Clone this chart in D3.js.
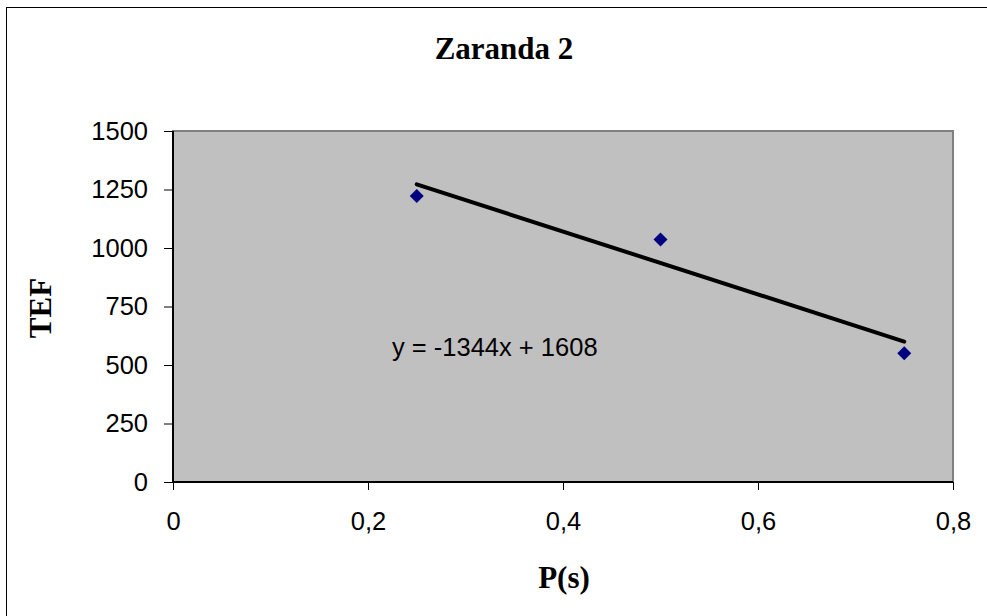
<!DOCTYPE html>
<meta charset="utf-8">
<style>
body { margin: 0; background: #fff; }
.tick text { font-family: "Liberation Sans", Arial, sans-serif; font-size: 25.5px; fill: #000; }
</style>
<body>
<script src="https://d3js.org/d3.v7.min.js"></script>
<script>

var xValues = [0.25, 0.5, 0.75],
    yValues = [1222, 1036, 550],
    xTicks = [0, 0.2, 0.4, 0.6, 0.8],
    yTicks = [0, 250, 500, 750, 1000, 1250, 1500],
    slope = -1344,
    intercept = 1608;

var width = 987,
    height = 616,
    plot = {left: 173, top: 131, right: 953, bottom: 482};

var svg = d3.select("body").append("svg")
    .attr("width", width)
    .attr("height", height);

// chart frame
svg.append("rect")
    .attr("x", 6.5).attr("y", 7.5)
    .attr("width", 1000).attr("height", 700)
    .attr("fill", "#fff").attr("stroke", "#000").attr("stroke-width", 1);

var x = d3.scaleLinear().domain([0, 0.8]).range([plot.left, plot.right]);
var y = d3.scaleLinear().domain([0, 1500]).range([plot.bottom, plot.top]);

svg.append("rect")
    .attr("x", plot.left).attr("y", plot.top)
    .attr("width", plot.right - plot.left).attr("height", plot.bottom - plot.top)
    .attr("fill", "#c0c0c0").attr("stroke", "#808080").attr("stroke-width", 2);

var fmt = function(d) { return String(d).replace(".", ","); };

var xAxis = svg.append("g")
    .attr("transform", "translate(0," + plot.bottom + ")")
    .call(d3.axisBottom(x).tickValues(xTicks).tickFormat(fmt).tickSize(8).tickPadding(22));
var yAxis = svg.append("g")
    .attr("transform", "translate(" + plot.left + ",0)")
    .call(d3.axisLeft(y).tickValues(yTicks).tickFormat(d3.format("d")).tickSize(9).tickPadding(16));

[xAxis, yAxis].forEach(function(a) {
    a.select(".domain").attr("stroke", "#000").attr("stroke-width", 2);
    a.selectAll(".tick line").attr("stroke", "#000");
});
xAxis.select(".domain").attr("d", "M" + plot.left + ",0H" + plot.right);
yAxis.select(".domain").attr("d", "M0," + plot.bottom + "V" + plot.top);

// trendline
var x0 = d3.min(xValues), x1 = d3.max(xValues);
svg.append("line")
    .attr("x1", x(x0)).attr("y1", y(slope * x0 + intercept))
    .attr("x2", x(x1)).attr("y2", y(slope * x1 + intercept))
    .attr("stroke", "#000").attr("stroke-width", 4).attr("stroke-linecap", "round");

// points
svg.selectAll(".pt")
    .data(xValues)
    .enter()
    .append("path")
    .attr("class", "pt")
    .attr("d", "M0,-7L7,0L0,7L-7,0Z")
    .attr("fill", "#000080")
    .attr("transform", function(d, i) { return "translate(" + x(d) + "," + y(yValues[i]) + ")"; });

svg.append("text")
    .attr("x", 392).attr("y", 356)
    .attr("font-family", "Liberation Sans, Arial, sans-serif")
    .attr("font-size", 25.5)
    .text("y = -1344x + 1608");

svg.append("text")
    .attr("x", 504).attr("y", 59)
    .attr("text-anchor", "middle")
    .attr("font-family", "Liberation Serif, Times New Roman, serif")
    .attr("font-weight", "bold")
    .attr("font-size", 31)
    .text("Zaranda 2");

svg.append("text")
    .attr("x", 564).attr("y", 588)
    .attr("text-anchor", "middle")
    .attr("font-family", "Liberation Serif, Times New Roman, serif")
    .attr("font-weight", "bold")
    .attr("font-size", 31)
    .text("P(s)");

svg.append("text")
    .attr("transform", "translate(51,308) rotate(-90)")
    .attr("text-anchor", "middle")
    .attr("font-family", "Liberation Serif, Times New Roman, serif")
    .attr("font-weight", "bold")
    .attr("font-size", 31)
    .text("TEF");

</script>
